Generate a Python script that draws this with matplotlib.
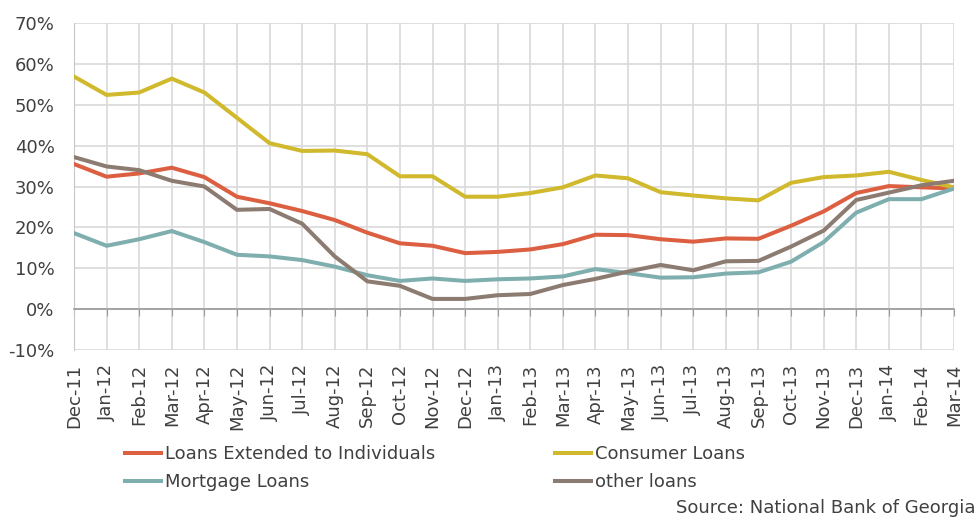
import matplotlib
matplotlib.use("Agg")
import matplotlib.pyplot as plt
import numpy as np

months = ["Dec-11", "Jan-12", "Feb-12", "Mar-12", "Apr-12", "May-12", "Jun-12", "Jul-12",
          "Aug-12", "Sep-12", "Oct-12", "Nov-12", "Dec-12", "Jan-13", "Feb-13", "Mar-13",
          "Apr-13", "May-13", "Jun-13", "Jul-13", "Aug-13", "Sep-13", "Oct-13", "Nov-13",
          "Dec-13", "Jan-14", "Feb-14", "Mar-14"]

individuals = [35.5, 32.4, 33.2, 34.6, 32.3, 27.5, 25.9, 24.0, 21.8, 18.7, 16.1, 15.5, 13.7, 14.0,
               14.6, 15.9, 18.2, 18.1, 17.1, 16.5, 17.3, 17.2, 20.4, 23.9, 28.4, 30.1, 29.8, 29.5]
consumer = [56.9, 52.4, 53.0, 56.4, 53.0, 46.8, 40.6, 38.7, 38.8, 37.9, 32.5, 32.5, 27.5, 27.5,
            28.4, 29.8, 32.7, 32.0, 28.6, 27.8, 27.1, 26.6, 30.9, 32.3, 32.7, 33.6, 31.6, 29.8]
mortgage = [18.6, 15.5, 17.1, 19.1, 16.4, 13.3, 12.9, 12.0, 10.4, 8.3, 6.9, 7.5, 6.9, 7.3,
            7.5, 8.0, 9.8, 8.8, 7.7, 7.8, 8.7, 9.0, 11.6, 16.4, 23.6, 26.9, 26.9, 29.5]
other = [37.2, 34.9, 34.0, 31.4, 30.0, 24.3, 24.5, 20.9, 12.9, 6.8, 5.7, 2.5, 2.5, 3.4,
         3.7, 5.9, 7.4, 9.2, 10.8, 9.5, 11.7, 11.8, 15.3, 19.2, 26.7, 28.5, 30.3, 31.4]

series_names = ["Loans Extended to Individuals", "Consumer Loans", "Mortgage Loans", "other loans"]
colors = ["#DC5F41", "#D0B92C", "#7FAEAE", "#8C7B70"]

plt.rcParams['font.family'] = ['DejaVu Sans']
fs = 13
txt_color = "#404040"

fig = plt.figure(figsize=(9.77, 5.19), dpi=100)
ax = fig.add_axes([74/977, 1-350/519, (954-74)/977, (350-23)/519])

x = np.arange(len(months))
lines = []
for vals, name, c in zip([individuals, consumer, mortgage, other], series_names, colors):
    ln, = ax.plot(x, vals, color=c, lw=2.9, label=name, solid_joinstyle='miter', zorder=3)
    lines.append(ln)

ax.set_xlim(0, len(months)-1)
ax.set_ylim(-10, 70)
ax.set_yticks(np.arange(-10, 71, 10))
ax.set_yticklabels([f"{v}%" for v in range(-10, 71, 10)], fontsize=fs, color=txt_color)
ax.tick_params(axis='y', length=0, pad=14)

ax.set_xticks(x)
ax.grid(True, color="#d9d9d9", lw=1.2, zorder=0)
ax.set_axisbelow(True)

# zero line as category axis with tick marks
ax.spines['bottom'].set_position(('data', 0))
ax.spines['bottom'].set_color("#9a9a9a")
ax.spines['bottom'].set_linewidth(1.2)
ax.tick_params(axis='x', direction='out', length=5, color="#9a9a9a", labelbottom=False)
for s in ['top', 'right']:
    ax.spines[s].set_visible(False)
ax.spines['left'].set_color("#c8c8c8")

sec = ax.secondary_xaxis(0.0)
sec.set_xticks(x)
sec.set_xticklabels(months, rotation=90, fontsize=fs, color=txt_color)
sec.tick_params(length=0, pad=10)
sec.spines['bottom'].set_visible(False)

# row-wise legend order: (Individuals, Consumer) / (Mortgage, other)
order = [0, 2, 1, 3]
leg = fig.legend([lines[i] for i in order], [series_names[i] for i in order], ncol=2,
                 loc='upper left', bbox_to_anchor=(125/977, 1-445/519),
                 frameon=False, fontsize=fs, handlelength=2.0, handletextpad=0.2,
                 columnspacing=6.65, labelspacing=0.57, borderaxespad=0, borderpad=0)
for t in leg.get_texts():
    t.set_color(txt_color)

fig.text(0.998, 1-517/519, "Source: National Bank of Georgia", ha='right', va='bottom',
         fontsize=fs, color=txt_color)

fig.savefig("out.png", dpi=100)
